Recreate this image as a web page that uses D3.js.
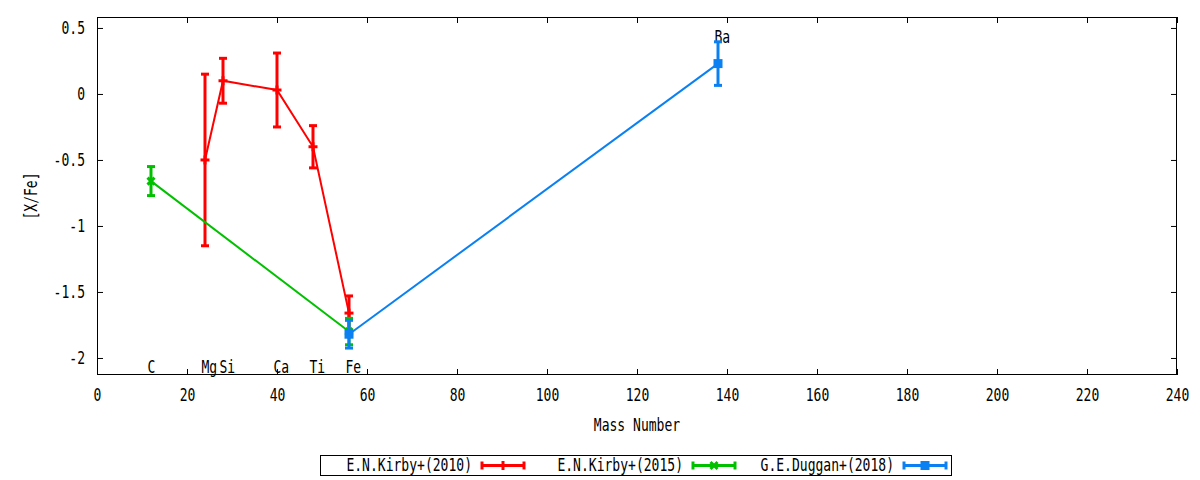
<!DOCTYPE html>
<html>
<head>
<meta charset="utf-8">
<script src="https://cdn.jsdelivr.net/npm/d3@7"></script>
<style>
  body { margin: 0; background: #fff; }
  svg { display: block; }
  text { font-family: "DejaVu Sans Mono", monospace; font-size: 17px; fill: #000; }
</style>
</head>
<body>
<svg width="1200" height="480"></svg>
<script>
// data
var kirby2010Mass = [24, 28, 40, 48, 56];
var kirby2010Val  = [-0.50, 0.10, 0.03, -0.40, -1.66];
var kirby2010Err  = [0.65, 0.17, 0.28, 0.16, 0.13];

var kirby2015Mass = [12, 56];
var kirby2015Val  = [-0.66, -1.80];
var kirby2015Err  = [0.11, 0.10];

var duggan2018Mass = [56, 138];
var duggan2018Val  = [-1.82, 0.23];
var duggan2018Err  = [0.105, 0.165];

var elemNames = ["C", "Mg", "Si", "Ca", "Ti", "Fe", "Ba"];
var elemMass  = [12, 24, 28, 40, 48, 56, 138];
var elemY     = [-2.07, -2.07, -2.07, -2.07, -2.07, -2.07, 0.43];

var xTicks = d3.range(0, 241, 20);
var yTicks = [0.5, 0, -0.5, -1, -1.5, -2];

var series = [
  { name: "E.N.Kirby+(2010)", color: "#ff0000", point: "plus", mass: kirby2010Mass, val: kirby2010Val, err: kirby2010Err },
  { name: "E.N.Kirby+(2015)", color: "#00c000", point: "cross", mass: kirby2015Mass, val: kirby2015Val, err: kirby2015Err },
  { name: "G.E.Duggan+(2018)", color: "#0a80f2", point: "square", mass: duggan2018Mass, val: duggan2018Val, err: duggan2018Err }
];

var svg = d3.select("svg");
var plotLeft = 97, plotRight = 1177, plotTop = 17, plotBottom = 375;

var x = d3.scaleLinear().domain([0, 240]).range([plotLeft, plotRight]);
var y = d3.scaleLinear().domain([-2.129, 0.583]).range([plotBottom, plotTop]);

// squeeze the mono font so it looks like the narrow gnuplot one
function narrow(sel) {
  sel.attr("textLength", function() { return this.textContent.length * 7.85; })
     .attr("lengthAdjust", "spacingAndGlyphs");
}

// axes with inward ticks (gnuplot style), mirrored on top/right
var tickLen = 6;
var axes = svg.append("g");
var bottomAxis = d3.axisBottom(x).tickValues(xTicks).tickSize(-tickLen).tickPadding(14).tickFormat(d3.format("d"));
var topAxis = d3.axisTop(x).tickValues(xTicks).tickSize(-tickLen).tickFormat("");
var leftAxis = d3.axisLeft(y).tickValues(yTicks).tickSize(-tickLen).tickPadding(12).tickFormat(function(d) { return String(d); });
var rightAxis = d3.axisRight(y).tickValues(yTicks).tickSize(-tickLen).tickFormat("");

axes.append("g").attr("transform", "translate(0," + plotBottom + ")").call(bottomAxis);
axes.append("g").attr("transform", "translate(0," + plotTop + ")").call(topAxis);
axes.append("g").attr("transform", "translate(" + plotLeft + ",0)").call(leftAxis);
axes.append("g").attr("transform", "translate(" + plotRight + ",0)").call(rightAxis);
axes.selectAll(".domain").remove();
axes.selectAll(".tick line").attr("stroke", "#000").attr("stroke-width", 1);
axes.selectAll(".tick text").attr("font-family", null).attr("font-size", null).each(function() { d3.select(this).call(narrow); });

svg.append("rect")
  .attr("x", plotLeft + 0.5).attr("y", plotTop + 0.5)
  .attr("width", plotRight - plotLeft - 1).attr("height", plotBottom - plotTop - 1)
  .attr("fill", "none").attr("stroke", "#000").attr("stroke-width", 1);

// element labels
svg.append("g").selectAll("text")
  .data(elemNames)
  .enter().append("text")
  .attr("x", function(d, i) { return x(elemMass[i]) - 3.5; })
  .attr("y", function(d, i) { return y(elemY[i]); })
  .attr("dy", "0.35em")
  .text(function(d) { return d; })
  .each(function() { d3.select(this).call(narrow); });

// marker drawing
function drawPoint(g, type, cx, cy, color) {
  if (type === "plus") {
    g.append("line").attr("x1", cx - 4.5).attr("x2", cx + 4.5).attr("y1", cy).attr("y2", cy)
      .attr("stroke", color).attr("stroke-width", 3);
    g.append("line").attr("x1", cx).attr("x2", cx).attr("y1", cy - 4.5).attr("y2", cy + 4.5)
      .attr("stroke", color).attr("stroke-width", 3);
  } else if (type === "cross") {
    g.append("path").attr("d", "M" + (cx - 3.5) + "," + (cy - 3.5) + "L" + (cx + 3.5) + "," + (cy + 3.5) +
        "M" + (cx - 3.5) + "," + (cy + 3.5) + "L" + (cx + 3.5) + "," + (cy - 3.5))
      .attr("stroke", color).attr("stroke-width", 3);
  } else {
    g.append("rect").attr("x", cx - 4.5).attr("y", cy - 4.5).attr("width", 9).attr("height", 9).attr("fill", color);
  }
}

function drawErrBar(g, cx, yTop, yBot, color) {
  g.append("line").attr("x1", cx).attr("x2", cx).attr("y1", yTop).attr("y2", yBot)
    .attr("stroke", color).attr("stroke-width", 3);
  [yTop, yBot].forEach(function(yy) {
    g.append("line").attr("x1", cx - 4).attr("x2", cx + 4).attr("y1", yy).attr("y2", yy)
      .attr("stroke", color).attr("stroke-width", 3);
  });
}

var line = d3.line().x(function(d) { return x(d[0]); }).y(function(d) { return y(d[1]); });

series.forEach(function(s) {
  var g = svg.append("g");
  var pts = s.mass.map(function(m, i) { return [m, s.val[i], s.err[i]]; });
  g.append("path").datum(pts).attr("d", line)
    .attr("fill", "none").attr("stroke", s.color).attr("stroke-width", 2);
  pts.forEach(function(p) {
    drawErrBar(g, x(p[0]), y(p[1] + p[2]), y(p[1] - p[2]), s.color);
    drawPoint(g, s.point, x(p[0]), y(p[1]), s.color);
  });
});

// axis titles
svg.append("text").attr("x", (plotLeft + plotRight) / 2).attr("y", 431)
  .attr("text-anchor", "middle").text("Mass Number").call(narrow);
svg.append("text").attr("transform", "translate(37," + ((plotTop + plotBottom) / 2) + ") rotate(-90)")
  .attr("text-anchor", "middle").text("[X/Fe]").call(narrow);

// legend
var legend = svg.append("g");
legend.append("rect").attr("x", 320.5).attr("y", 455.5).attr("width", 631).attr("height", 20)
  .attr("fill", "none").attr("stroke", "#000").attr("stroke-width", 1);
series.forEach(function(s, i) {
  var textEnd = 472 + 211 * i;
  var ly = 465.5;
  legend.append("text").attr("x", textEnd).attr("y", ly).attr("dy", "0.35em")
    .attr("text-anchor", "end").text(s.name).call(narrow);
  var x0 = textEnd + 10, x1 = textEnd + 52;
  legend.append("line").attr("x1", x0).attr("x2", x1).attr("y1", ly).attr("y2", ly)
    .attr("stroke", s.color).attr("stroke-width", 3);
  [x0, x1].forEach(function(xx) {
    legend.append("line").attr("x1", xx).attr("x2", xx).attr("y1", ly - 4).attr("y2", ly + 4)
      .attr("stroke", s.color).attr("stroke-width", 3);
  });
  drawPoint(legend, s.point, (x0 + x1) / 2, ly, s.color);
});
</script>
</body>
</html>
